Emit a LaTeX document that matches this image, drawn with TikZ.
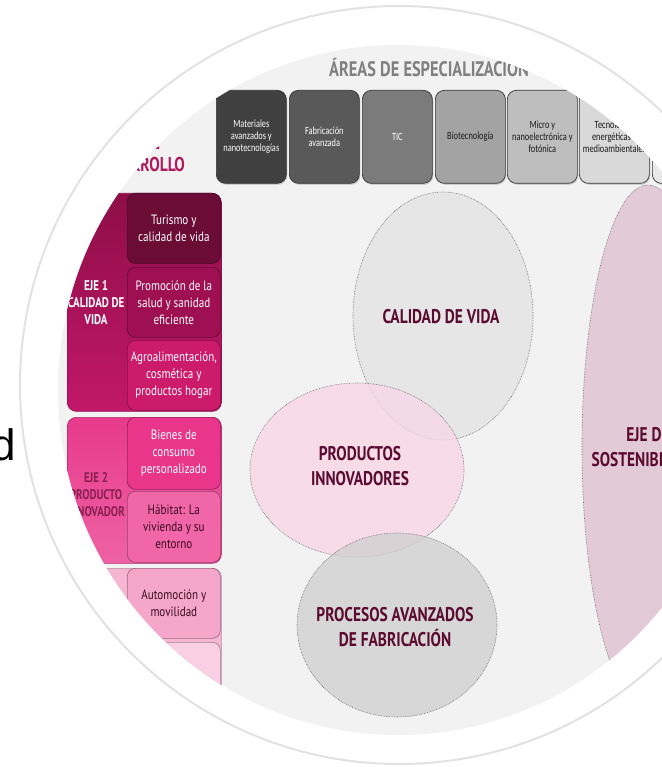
\documentclass[tikz,border=0pt]{standalone}
\usepackage{fontspec}
\setmainfont{PT Sans}
\newfontfamily\cond[FakeStretch=0.78]{PT Sans}
\newfontfamily\condb[FakeStretch=0.82]{PT Sans}
\newfontfamily\calib[FakeStretch=0.76]{Carlito}
\newfontfamily\arialf{Liberation Sans}
\usetikzlibrary{shapes.geometric,shadows}
\definecolor{bgin}{HTML}{F2F2F2}
\definecolor{ringc}{HTML}{E2E2E2}
\definecolor{wine}{HTML}{5A0B2F}
\definecolor{tb1}{HTML}{404040}
\definecolor{tb2}{HTML}{595959}
\definecolor{tb3}{HTML}{7B7B7B}
\definecolor{tb4}{HTML}{A3A3A3}
\definecolor{tb5}{HTML}{BEBEBE}
\definecolor{tb6}{HTML}{D9D9D9}
\definecolor{tb7}{HTML}{E9E9E9}
\definecolor{desc}{HTML}{AE1A5E}
\definecolor{ejeAt}{HTML}{8E0E47}
\definecolor{ejeAb}{HTML}{C2176A}
\definecolor{sAa}{HTML}{6B0C37}
\definecolor{sAb}{HTML}{9E1052}
\definecolor{sAc}{HTML}{CD1B6B}
\definecolor{ejeBt}{HTML}{E83A8C}
\definecolor{ejeBb}{HTML}{EE62A3}
\definecolor{sBa}{HTML}{E9368A}
\definecolor{sBb}{HTML}{F066A7}
\definecolor{ejeC}{HTML}{F6B5D3}
\definecolor{sCa}{HTML}{F4A6CB}
\definecolor{sCb}{HTML}{F9D0E3}
\definecolor{darktx}{HTML}{3B0A22}
\definecolor{ejeBtx}{HTML}{8A2050}
\definecolor{elA}{HTML}{E3E3E3}
\definecolor{elB}{HTML}{F9D6E6}
\definecolor{elC}{HTML}{D0D0D0}
\definecolor{elD}{HTML}{DFBFD0}
\begin{document}
\begin{tikzpicture}[x=1pt,y=-1pt,
  topbox/.style={draw=black!80, fill=#1, line width=0.7pt, rounded corners=9pt,
    minimum width=70pt, minimum height=93pt, inner sep=1pt, align=center,
    anchor=north west, font=\calib\fontsize{11}{12}\selectfont,
    drop shadow={shadow xshift=1pt, shadow yshift=-1.5pt, opacity=0.3}},
  ejebox/.style={draw=#1!75!black, line width=0.7pt, rounded corners=9pt,
    minimum width=154pt, anchor=north west, inner sep=0pt},
  subbox/.style={draw=#1!65!black, fill=#1, line width=0.7pt, rounded corners=8pt,
    minimum width=93pt, minimum height=70pt, inner sep=1pt, align=center,
    anchor=north west, font=\condb\fontsize{13.5}{17}\selectfont},
  ejelab/.style={align=center, font=\cond\bfseries\fontsize{14}{17}\selectfont},
  blob/.style={ellipse, draw=black!60, densely dotted, line width=0.6pt,
    fill=#1, fill opacity=0.78, inner sep=0pt},
  blobtext/.style={align=center, text=wine, font=\cond\bfseries\fontsize{19.8}{25}\selectfont}
]
\useasboundingbox (0,0) rectangle (661,767);
\fill[white] (0,0) rectangle (661,767);
\node[anchor=base east, inner sep=0pt, font=\arialf\fontsize{44}{44}\selectfont] (dd) at (16,460) {d};
\draw[ringc, line width=2pt] (399,385) circle (379pt);
\begin{scope}
\clip (398,390) ellipse [x radius=340pt, y radius=345pt];
\fill[bgin] (398,390) ellipse [x radius=340pt, y radius=345pt];
% title
\node[anchor=base, inner sep=0pt, text=black!50, font=\cond\bfseries\fontsize{21}{24}\selectfont] (title) at (429,77) {ÁREAS DE ESPECIALIZACIÓN};
% top boxes
\node[topbox=tb1, text=white] (ta) at (216,90) {Materiales\\avanzados y\\nanotecnologías};
\node[topbox=tb2, text=white] (tb) at (289,90) {Fabricación\\avanzada};
\node[topbox=tb3, text=white] (tc) at (362,90) {TIC};
\node[topbox=tb4, text=black!90] (td) at (435,90) {Biotecnología};
\node[topbox=tb5, text=black!90] (te) at (507,90) {Micro y\\nanoelectrónica y\\fotónica};
\node[topbox=tb6, text=black!90] (tf) at (579,90) {Tecnologías\\energéticas y\\medioambientales};
\node[topbox=tb7, text=black!90] (tg) at (652,90) {};
% left title
\node[anchor=base, inner sep=0pt, text=desc, font=\cond\bfseries\fontsize{20}{22}\selectfont] (desar) at (140,172) {DESARROLLO};
\node[anchor=base, inner sep=0pt, text=desc, font=\cond\bfseries\fontsize{20}{22}\selectfont] (ejesde) at (134,150) {EJES DE};
% EJE 1
\node[ejebox=ejeAb, top color=ejeAt, bottom color=ejeAb, minimum height=218pt] (ejeA) at (67,193) {};
\node[ejelab, text=white] (ejeAlab) at (96,303) {EJE 1\\CALIDAD DE\\VIDA};
\node[subbox=sAa, text=white] (sa1) at (127,193) {Turismo y\\calidad de vida};
\node[subbox=sAb, text=white] (sa2) at (127,267) {Promoción de la\\salud y sanidad\\eficiente};
\node[subbox=sAc, text=white] (sa3) at (127,340) {Agroalimentación,\\cosmética y\\productos hogar};
% EJE 2
\node[ejebox=ejeBt, top color=ejeBt, bottom color=ejeBb, minimum height=146pt] (ejeB) at (67,417) {};
\node[ejelab, text=ejeBtx] (ejeBlab) at (96,495) {EJE 2\\PRODUCTO\\INNOVADOR};
\node[subbox=sBa, text=white, minimum height=72pt] (sb1) at (127,417) {Bienes de\\consumo\\personalizado};
\node[subbox=sBb, text=darktx, minimum height=71pt] (sb2) at (127,491) {Hábitat: La\\vivienda y su\\entorno};
% EJE 3
\node[ejebox=ejeC, fill=ejeC, minimum height=190pt] (ejeC) at (67,568) {};
\node[subbox=sCa, text=darktx] (sc1) at (127,568) {Automoción y\\movilidad};
\node[subbox=sCb, text=darktx] (sc2) at (127,642) {};
% ellipses
\node[blob=elD, minimum width=132pt, minimum height=524pt] (esost) at (648,447) {};
\node[blobtext] (tsost) at (esost.center) {EJE DE\\SOSTENIBILIDAD};
\node[blob=elA, minimum width=180pt, minimum height=248pt] (ecal) at (443,316) {};
\node[blob=elB, minimum width=214pt, minimum height=174pt] (eprod) at (357,470) {};
\node[blob=elC, minimum width=200pt, minimum height=184pt] (eproc) at (397,625) {};
\node[blobtext] (tcal) at (441,317) {CALIDAD DE VIDA};
\node[blobtext] (tprod) at (360,466) {PRODUCTOS\\INNOVADORES};
\node[blobtext] (tproc) at (395,627) {PROCESOS AVANZADOS\\DE FABRICACIÓN};
\end{scope}
\end{tikzpicture}
\end{document}
